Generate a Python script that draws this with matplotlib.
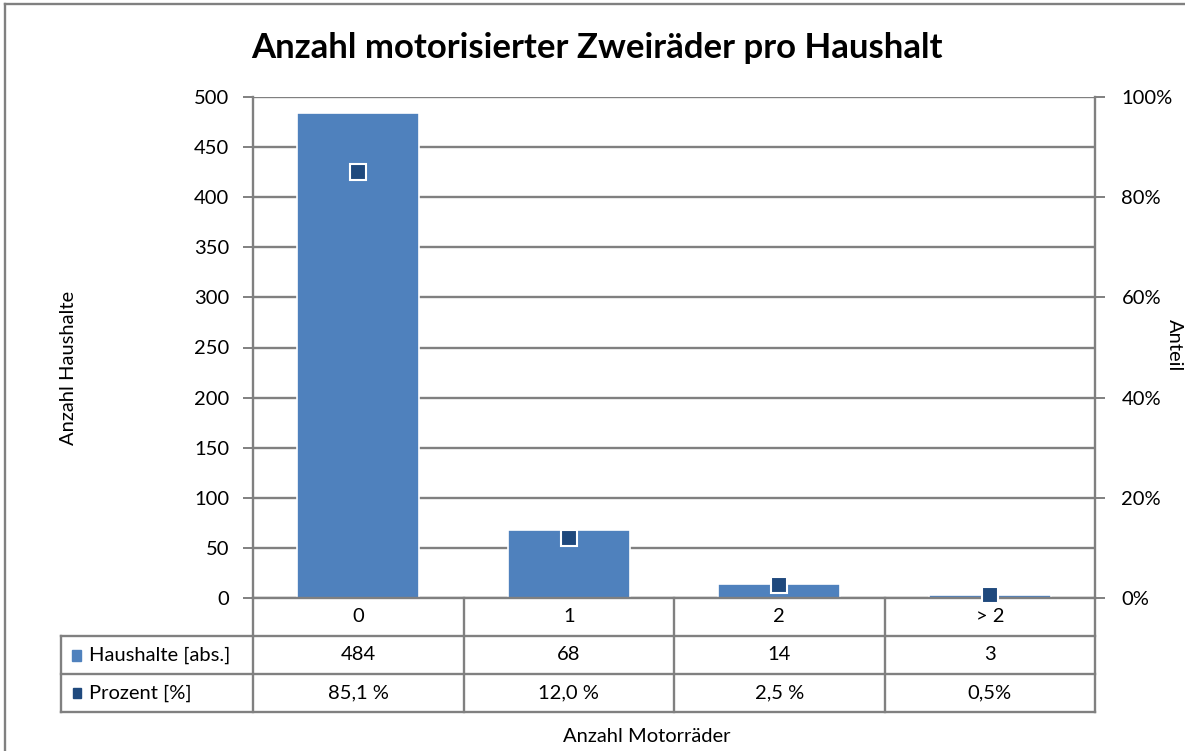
import matplotlib.pyplot as plt
from matplotlib.transforms import blended_transform_factory
from matplotlib.lines import Line2D
from matplotlib.patches import Rectangle
import numpy as np

plt.rcParams['font.family'] = ['Lato', 'DejaVu Sans']

# data
categories = ['0', '1', '2', '> 2']
households = [484, 68, 14, 3]
percent = [85.1, 12.0, 2.5, 0.5]
households_txt = ['484', '68', '14', '3']
percent_txt = ['85,1 %', '12,0 %', '2,5 %', '0,5%']

bar_col = '#4f81bd'
mark_col = '#1f497d'
grey = '#808080'
fs = 14.5

W, H = 1185, 751
fig = plt.figure(figsize=(W / 100, H / 100), dpi=100)
ax = fig.add_axes([253 / W, 1 - 598 / H, 842 / W, 501 / H])

x = np.arange(len(categories))
ax.set_axisbelow(True)
ax.bar(x, households, width=0.58, color=bar_col, edgecolor='white', linewidth=1.2, zorder=2)
ax.set_xlim(-0.5, len(categories) - 0.5)
ax.set_ylim(0, 500)
ax.set_yticks(np.arange(0, 501, 50))
ax.yaxis.grid(True, color=grey, linewidth=1.7)
ax.set_xticks([])
ax.tick_params(axis='y', length=7, width=1.4, color=grey, pad=10, labelsize=fs)
for s in ['left', 'right', 'bottom']:
    ax.spines[s].set_color(grey)
    ax.spines[s].set_linewidth(1.7)
ax.spines['top'].set_visible(False)

ax2 = ax.twinx()
ax2.set_ylim(0, 1)
ax2.set_yticks(np.arange(0, 1.01, 0.2))
ax2.set_yticklabels(['%d%%' % round(v * 100) for v in np.arange(0, 1.01, 0.2)])
ax2.tick_params(axis='y', length=7, width=1.4, color=grey, pad=12, labelsize=fs)
for s in ax2.spines.values():
    s.set_visible(False)
ax2.plot(x, np.array(percent) / 100, 's', ms=11.5, color=mark_col,
         markeredgecolor='white', markeredgewidth=1.5, zorder=3, clip_on=False)

# title and axis labels
fig.text(597 / W, 1 - 48 / H, 'Anzahl motorisierter Zweiräder pro Haushalt',
         ha='center', va='center', fontsize=25, fontweight='bold')
fig.text(68 / W, 1 - 368 / H, 'Anzahl Haushalte', rotation=90,
         ha='center', va='center', fontsize=fs)
fig.text(1174 / W, 1 - 345 / H, 'Anteil', rotation=270,
         ha='center', va='center', fontsize=fs)
fig.text(647 / W, 1 - 737 / H, 'Anzahl Motorräder',
         ha='center', va='center', fontsize=fs)

# data table below the axis
tr = blended_transform_factory(ax.transData, ax.transAxes)
def yf(py):
    return (598 - py) / 501.0

x_left = -0.5 + (61 - 253) / 210.5
rows = [598, 636, 674, 712]
for i in range(len(categories) + 1):
    xb = i - 0.5
    ax.add_line(Line2D([xb, xb], [yf(598), yf(712)], transform=tr, color=grey,
                       lw=1.7, clip_on=False))
ax.add_line(Line2D([x_left, x_left], [yf(636), yf(712)], transform=tr, color=grey,
                   lw=1.7, clip_on=False))
for py in rows[1:]:
    ax.add_line(Line2D([x_left, len(categories) - 0.5], [yf(py), yf(py)], transform=tr,
                       color=grey, lw=1.7, clip_on=False))

for i, c in enumerate(categories):
    ax.text(i, yf(617), c, transform=tr, ha='center', va='center', fontsize=fs)
    ax.text(i, yf(655), households_txt[i], transform=tr, ha='center', va='center', fontsize=fs)
    ax.text(i, yf(693), percent_txt[i], transform=tr, ha='center', va='center', fontsize=fs)

fig.patches.append(Rectangle((72 / W, 1 - 661 / H), 9 / W, 11 / H, transform=fig.transFigure,
                             color=bar_col))
fig.patches.append(Rectangle((73 / W, 1 - 698 / H), 8 / W, 10 / H, transform=fig.transFigure,
                             color=mark_col))
fig.text(89 / W, 1 - 655 / H, 'Haushalte [abs.]', ha='left', va='center', fontsize=fs)
fig.text(89 / W, 1 - 693 / H, 'Prozent [%]', ha='left', va='center', fontsize=fs)

# chart frame (right and bottom edges fall outside the image)
fig.add_artist(Line2D([5 / W, 5 / W], [0, 1 - 4 / H], transform=fig.transFigure,
                      color=grey, lw=1.7))
fig.add_artist(Line2D([5 / W, 1], [1 - 4 / H, 1 - 4 / H], transform=fig.transFigure,
                      color=grey, lw=1.7))

plt.savefig('out.png', dpi=100)
